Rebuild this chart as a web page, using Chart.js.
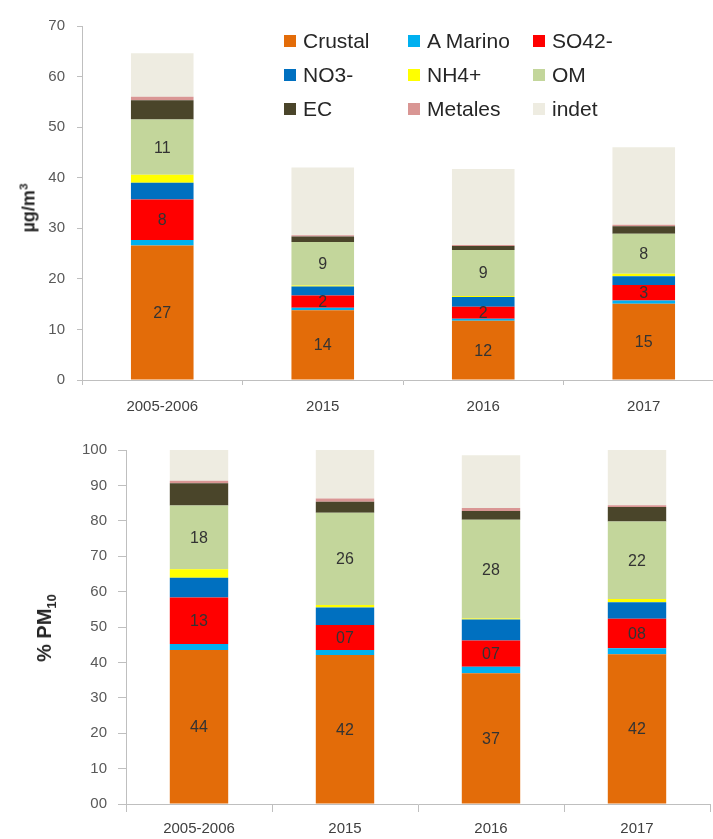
<!DOCTYPE html>
<html>
<head>
<meta charset="utf-8">
<script src="https://cdn.jsdelivr.net/npm/chart.js@4.4.1/dist/chart.umd.min.js"></script>
<style>
  body { margin: 0; width: 713px; height: 839px; overflow: hidden; background: #fff; position: relative; font-family: "Liberation Sans", Arial, sans-serif; }
  canvas { position: absolute; left: 0; }
  #topChart { top: 0; }
  #bottomChart { top: 430px; }
  .ytitle { position: absolute; transform: translate(-50%, -50%) rotate(-90deg); white-space: nowrap; font-weight: bold; color: #262626; }
  .ytitle sup, .ytitle sub { font-size: 65%; }
  #legend { position: absolute; left: 284px; top: 28px; display: grid; grid-template-columns: 124px 125px 120px; row-gap: 9px; color: #262626; font-size: 21px; }
  #legend div { display: flex; align-items: center; height: 25px; white-space: nowrap; }
  #legend span { display: inline-block; width: 12px; height: 12px; margin-right: 7px; }
</style>
</head>
<body>
<canvas id="topChart" width="735" height="420"></canvas>
<canvas id="bottomChart" width="713" height="409"></canvas>
<div class="ytitle" style="left:28px; top:208px; font-size:18px;">µg/m<sup>3</sup></div>
<div class="ytitle" style="left:46px; top:628px; font-size:20px;">% PM<sub>10</sub></div>
<div id="legend"></div>
<script>
const categories = ['2005-2006', '2015', '2016', '2017'];
const seriesNames = ['Crustal', 'A Marino', 'SO42-', 'NO3-', 'NH4+', 'OM', 'EC', 'Metales', 'indet'];
const seriesColors = ['#E36C09', '#00B0F0', '#FF0000', '#0070C0', '#FFFF00', '#C3D69B', '#4A452A', '#D99694', '#EEECE1'];
const labelledSeries = ['Crustal', 'SO42-', 'OM'];

// µg/m3
const crustalUg = [26.6, 13.8, 11.7, 15.1];
const marinoUg = [1.1, 0.5, 0.4, 0.6];
const so4Ug = [8.0, 2.4, 2.4, 3.1];
const no3Ug = [3.3, 1.8, 1.9, 1.7];
const nh4Ug = [1.6, 0.2, 0.2, 0.5];
const omUg = [10.9, 8.6, 9.1, 7.9];
const ecUg = [3.8, 1.1, 0.8, 1.5];
const metalesUg = [0.7, 0.2, 0.2, 0.3];
const indetUg = [8.6, 13.4, 15.0, 15.3];

// % PM10
const crustalPct = [43.5, 42.1, 36.9, 42.3];
const marinoPct = [1.7, 1.4, 1.9, 1.7];
const so4Pct = [13.1, 7.1, 7.4, 8.3];
const no3Pct = [5.6, 4.9, 5.9, 4.7];
const nh4Pct = [2.4, 0.7, 0.3, 0.9];
const omPct = [18.0, 26.1, 27.9, 21.9];
const ecPct = [6.3, 3.1, 2.5, 4.1];
const metalesPct = [0.7, 0.9, 0.8, 0.5];
const indetPct = [8.7, 13.7, 14.9, 15.6];

const ugTicks = ['0', '10', '20', '30', '40', '50', '60', '70'];
const pctTicks = ['00', '10', '20', '30', '40', '50', '60', '70', '80', '90', '100'];

const ugSeries = [crustalUg, marinoUg, so4Ug, no3Ug, nh4Ug, omUg, ecUg, metalesUg, indetUg];
const pctSeries = [crustalPct, marinoPct, so4Pct, no3Pct, nh4Pct, omPct, ecPct, metalesPct, indetPct];

const FONT = '"Liberation Sans", Arial, sans-serif';
const AXIS = '#bfbfbf';

// legend
const legendEl = document.getElementById('legend');
seriesNames.forEach((name, i) => {
  const item = document.createElement('div');
  item.innerHTML = `<span style="background:${seriesColors[i]}"></span>${name}`;
  legendEl.appendChild(item);
});

function segmentLabels(pad) {
  return {
    id: 'segmentLabels',
    afterDatasetsDraw(chart) {
      const ctx = chart.ctx;
      ctx.save();
      ctx.font = '16px ' + FONT;
      ctx.fillStyle = '#333333';
      ctx.textAlign = 'center';
      ctx.textBaseline = 'middle';
      chart.data.datasets.forEach((ds, di) => {
        if (!labelledSeries.includes(ds.label)) return;
        chart.getDatasetMeta(di).data.forEach((bar, i) => {
          let txt = String(Math.round(ds.data[i]));
          if (pad && txt.length < 2) txt = '0' + txt;
          ctx.fillText(txt, bar.x, (bar.y + bar.base) / 2 + 1);
        });
      });
      ctx.restore();
    }
  };
}

function makeChart(id, series, opts) {
  return new Chart(document.getElementById(id), {
    type: 'bar',
    data: {
      labels: categories,
      datasets: series.map((vals, i) => ({
        label: seriesNames[i],
        data: vals,
        backgroundColor: seriesColors[i],
        borderWidth: 0,
        categoryPercentage: 1,
        barPercentage: opts.barPct
      }))
    },
    options: {
      responsive: false,
      animation: false,
      layout: { padding: opts.padding },
      plugins: { legend: { display: false }, tooltip: { enabled: false } },
      scales: {
        x: {
          stacked: true,
          grid: { drawOnChartArea: false, tickLength: opts.tick, color: AXIS, offset: true },
          border: { color: AXIS },
          ticks: { color: '#404040', font: { family: FONT, size: 15 }, padding: opts.xPad, maxRotation: 0 },
          afterFit: s => { s.height = opts.xHeight; }
        },
        y: {
          stacked: true,
          min: 0,
          max: opts.max,
          grid: { drawOnChartArea: false, tickLength: opts.tick, color: AXIS },
          border: { color: AXIS },
          ticks: {
            stepSize: 10,
            color: '#595959',
            font: { family: FONT, size: 15 },
            padding: opts.yPad,
            callback: (v, i) => opts.tickLabels[i]
          },
          afterFit: s => { s.width = opts.yWidth; }
        }
      }
    },
    plugins: [segmentLabels(opts.padLabels)]
  });
}

makeChart('topChart', ugSeries, {
  barPct: 0.39, max: 70, tickLabels: ugTicks, padLabels: false,
  padding: { top: 26, right: 11, left: 0, bottom: 0 },
  tick: 5, xPad: 13, xHeight: 40, yPad: 12, yWidth: 82
});

makeChart('bottomChart', pctSeries, {
  barPct: 0.40, max: 100, tickLabels: pctTicks, padLabels: true,
  padding: { top: 20, right: 3, left: 0, bottom: 0 },
  tick: 8, xPad: 8, xHeight: 35, yPad: 11, yWidth: 126
});
</script>
</body>
</html>
